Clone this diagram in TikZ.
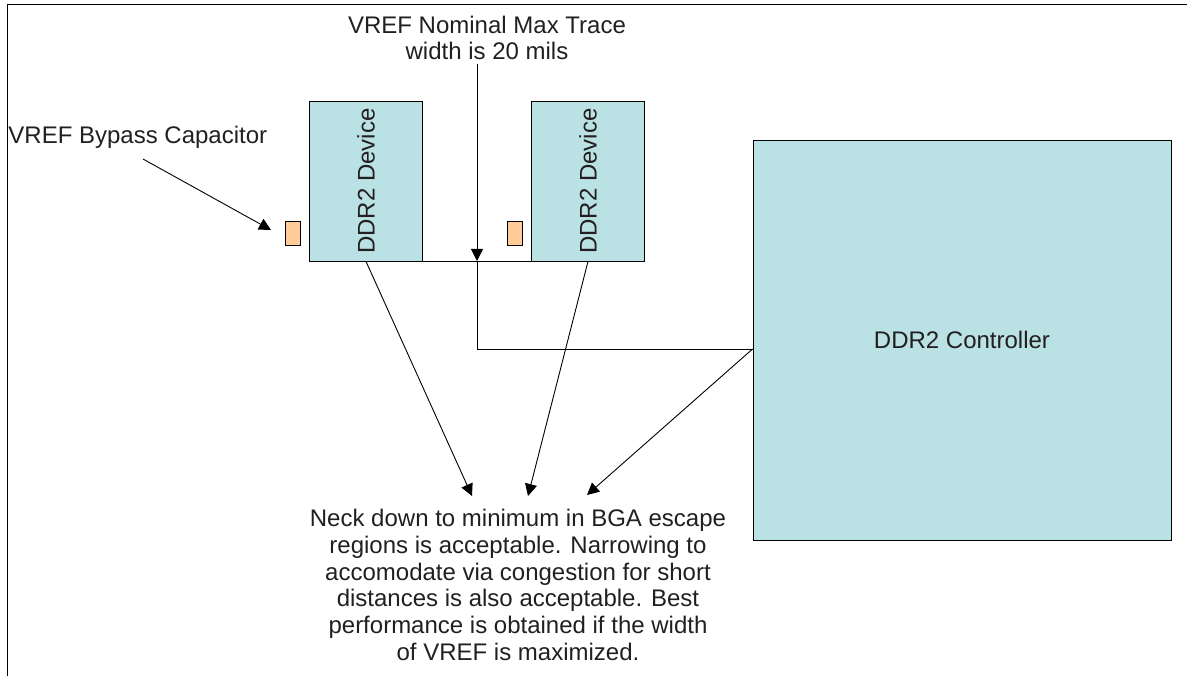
\documentclass[tikz,border=0pt]{standalone}
\usepackage{fontspec}
\setmainfont{Liberation Sans}
\usepackage{tikz}
\usetikzlibrary{
	arrows.meta, positioning, calc
}
\definecolor{chipteal} {RGB}{186, 225, 227}
\definecolor{cappeach} {RGB}{255, 204, 153}
\definecolor{inkgray}  {RGB}{35, 31, 32}

\begin{document}
\begin{tikzpicture}[x=1pt, y=-1pt, line width=0.9pt,
		every node/.style={font=\fontsize{24}{26.8}\selectfont, text=inkgray},
		chip/.style={draw, fill=chipteal, inner sep=0pt},
		bypasscap/.style={draw, fill=cappeach, inner sep=0pt, minimum width=15pt, minimum height=24pt},
		arr/.style={-{Triangle[length=12pt, width=12pt]}}]
	\useasboundingbox (0,0) rectangle (1187,676);
	% frame
	\draw (7,676)--(7,4)--(1187,4);
	% devices and controller
	\node[chip, minimum width=113pt, minimum height=160pt] (dev1) at (366,181) {\rotatebox{90}{DDR2 Device}};
	\node[chip, minimum width=113pt, minimum height=160pt] (dev2) at (588,181) {\rotatebox{90}{DDR2 Device}};
	\node[chip, minimum width=418pt, minimum height=400pt] (ctrl) at (962,340) {DDR2 Controller};
	\node[bypasscap] (cap1) at (293,233) {};
	\node[bypasscap] (cap2) at (514.5,233) {};
	% labels
	\node[anchor=west, inner sep=0pt] (caplbl) at (8,137) {VREF Bypass Capacitor};
	\node[align=center, inner sep=0pt] (tracelbl) at (487,38) {VREF Nominal Max Trace\\width is 20 mils};
	\node[align=center, inner sep=0pt] (note) at (518,585) {Neck down to minimum in BGA escape\\regions is acceptable. Narrowing to\\accomodate via congestion for short\\distances is also acceptable. Best\\performance is obtained if the width\\of VREF is maximized.};
	% trace
	\coordinate (tap) at (477,261);
	\coordinate (bend) at (477,349);
	\draw (dev1.south east) -- (dev2.south west);
	\draw (tap) -- (bend) -- (bend -| ctrl.west);
	% callouts
	\coordinate (capfrom) at (143,159);
	\coordinate (capto) at (271,230);
	\coordinate (tip1) at (472,496);
	\coordinate (tip2) at (528,496);
	\coordinate (tip3) at (587,495);
	\draw[arr] (capfrom) -- (capto);
	\draw[arr] (tracelbl.south -| tap) ++(0,3) -- (tap);
	\draw[arr] (dev1.south) -- (tip1);
	\draw[arr] (dev2.south) -- (tip2);
	\draw[arr] (bend -| ctrl.west) -- (tip3);
\end{tikzpicture}
\end{document}
